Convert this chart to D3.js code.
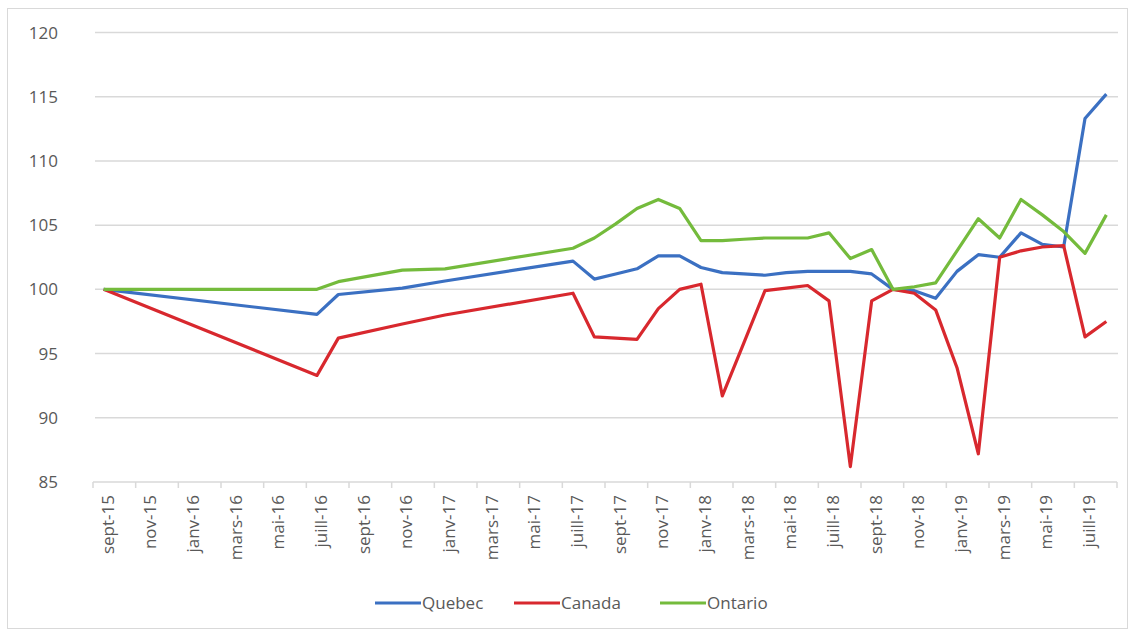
<!DOCTYPE html>
<html>
<head>
<meta charset="utf-8">
<script src="https://cdn.jsdelivr.net/npm/d3@7"></script>
<style>
  body { margin: 0; background: #fff; }
  svg text { font-family: "Open Sans", "Liberation Sans", sans-serif; fill: #595959; }
</style>
</head>
<body>
<svg id="chart" width="1135" height="633"></svg>
<script>
// months on the category axis (sept-15 .. août-19)
var months = ["sept-15","oct-15","nov-15","déc-15","janv-16","févr-16","mars-16","avr-16","mai-16","juin-16",
  "juill-16","août-16","sept-16","oct-16","nov-16","déc-16","janv-17","févr-17","mars-17","avr-17","mai-17","juin-17",
  "juill-17","août-17","sept-17","oct-17","nov-17","déc-17","janv-18","févr-18","mars-18","avr-18","mai-18","juin-18",
  "juill-18","août-18","sept-18","oct-18","nov-18","déc-18","janv-19","févr-19","mars-19","avr-19","mai-19","juin-19",
  "juill-19","août-19"];

// null = no value for that month (line just connects the neighbours, like Excel)
var quebec = [100,null,null,null,null,null,null,null,null,null,
  98.05,99.6,null,null,100.1,null,100.65,null,null,null,null,null,
  102.2,100.8,101.2,101.6,102.6,102.6,101.7,101.3,101.2,101.1,101.3,101.4,
  101.4,101.4,101.2,100,99.9,99.3,101.4,102.7,102.5,104.4,103.5,103.3,
  113.3,115.2];
var canada = [100,null,null,null,null,null,null,null,null,null,
  93.3,96.2,null,null,97.3,null,98.0,null,null,null,null,null,
  99.7,96.3,96.2,96.1,98.5,100.0,100.4,91.7,95.8,99.9,100.1,100.3,
  99.1,86.2,99.1,100,99.7,98.4,93.9,87.2,102.5,103.0,103.3,103.4,
  96.3,97.5];
var ontario = [100,null,null,null,null,null,null,null,null,null,
  100.0,100.6,null,null,101.5,null,101.6,null,null,null,null,null,
  103.2,104.0,105.1,106.3,107.0,106.3,103.8,103.8,103.9,104.0,104.0,104.0,
  104.4,102.4,103.1,100,100.2,100.5,103.0,105.5,104.0,107.0,105.8,104.5,
  102.8,105.8];

var seriesNames = ["Quebec", "Canada", "Ontario"];
var seriesColors = ["#3b70c2", "#d8282e", "#74bb3c"];
var yTicks = [85, 90, 95, 100, 105, 110, 115, 120];

var svg = d3.select("#chart");
var plotLeft = 93, plotRight = 1117, plotTop = 32.5, plotBottom = 482;

// outer chart border
svg.append("rect")
  .attr("x", 7.5).attr("y", 8.5)
  .attr("width", 1120).attr("height", 620)
  .attr("fill", "none")
  .attr("stroke", "#d9d9d9")
  .attr("stroke-width", 1);

var x = d3.scaleBand()
  .domain(months)
  .range([plotLeft, plotRight])
  .paddingInner(0).paddingOuter(0);

var y = d3.scaleLinear()
  .domain([85, 120])
  .range([plotBottom, plotTop]);

// gridlines + y labels
svg.append("g")
  .selectAll("line")
  .data(yTicks.filter(d => d != 85))
  .enter()
  .append("line")
  .attr("x1", plotLeft + 2).attr("x2", plotRight + 1)
  .attr("y1", d => y(d)).attr("y2", d => y(d))
  .attr("stroke", "#d9d9d9")
  .attr("stroke-width", 1.5);

svg.append("g")
  .selectAll("text")
  .data(yTicks)
  .enter()
  .append("text")
  .attr("x", 58)
  .attr("y", d => y(d))
  .attr("dy", "0.36em")
  .attr("text-anchor", "end")
  .style("font-size", "17px")
  .text(d => d);

// x axis line and tick marks (every 2 months, on category edges)
svg.append("line")
  .attr("x1", plotLeft).attr("x2", plotRight)
  .attr("y1", plotBottom).attr("y2", plotBottom)
  .attr("stroke", "#d9d9d9")
  .attr("stroke-width", 1.5);

var tickMonths = months.filter((m, i) => i % 2 == 0);
svg.append("g")
  .selectAll("line")
  .data(tickMonths.concat(["end"]))
  .enter()
  .append("line")
  .attr("x1", d => d == "end" ? plotRight : x(d))
  .attr("x2", d => d == "end" ? plotRight : x(d))
  .attr("y1", plotBottom).attr("y2", plotBottom + 6)
  .attr("stroke", "#d9d9d9")
  .attr("stroke-width", 1.5);

svg.append("g")
  .selectAll("text")
  .data(tickMonths)
  .enter()
  .append("text")
  .attr("transform", d => "translate(" + (x(d) + x.bandwidth() / 2 + 4) + "," + (plotBottom + 13) + ") rotate(-90)")
  .attr("dy", "0.36em")
  .attr("text-anchor", "end")
  .style("font-size", "17px")
  .text(d => d);

// lines
var allSeries = [quebec, canada, ontario];
var line = d3.line()
  .x(d => x(d.m) + x.bandwidth() / 2)
  .y(d => y(d.v));

allSeries.forEach(function(vals, k) {
  var pts = months.map((m, i) => ({ m: m, v: vals[i] })).filter(d => d.v != null);
  svg.append("path")
    .datum(pts)
    .attr("d", line)
    .attr("fill", "none")
    .attr("stroke", seriesColors[k])
    .attr("stroke-width", 3.2)
    .attr("stroke-linejoin", "round");
});

// legend
var legendX = [375, 514, 660];
var legend = svg.append("g")
  .selectAll("g")
  .data(seriesNames)
  .enter()
  .append("g")
  .attr("transform", (d, i) => "translate(" + legendX[i] + ",603)");

legend.append("line")
  .attr("x1", 0).attr("x2", 46)
  .attr("y1", 0).attr("y2", 0)
  .attr("stroke", (d, i) => seriesColors[i])
  .attr("stroke-width", 3.2);

legend.append("text")
  .attr("x", 47)
  .attr("dy", "0.36em")
  .style("font-size", "17px")
  .text(d => d);
</script>
</body>
</html>
